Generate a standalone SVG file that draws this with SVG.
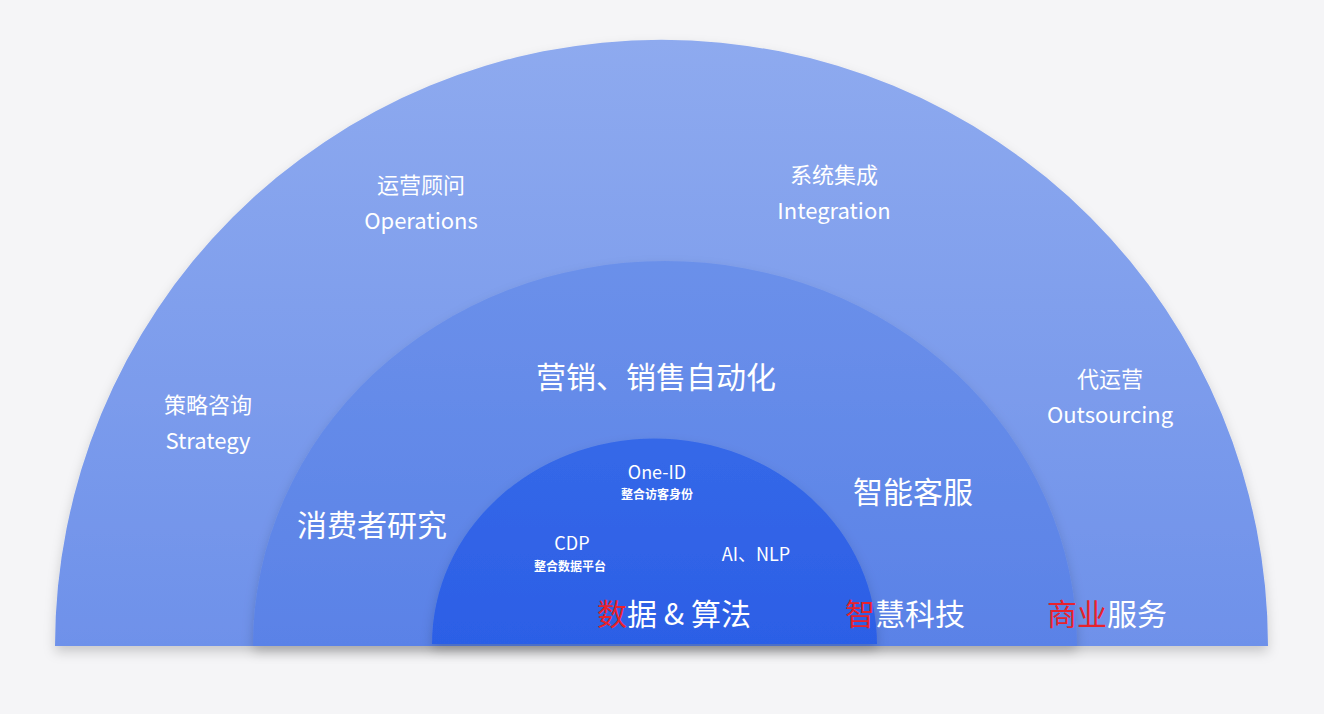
<svg xmlns="http://www.w3.org/2000/svg" width="1324" height="714" viewBox="0 0 1324 714">
<defs>
<linearGradient id="go" x1="0" y1="0" x2="0" y2="1"><stop offset="0" stop-color="#8eaaef"/><stop offset="1" stop-color="#6e91ea"/></linearGradient>
<linearGradient id="gm" x1="0" y1="0" x2="0" y2="1"><stop offset="0" stop-color="#6b90ea"/><stop offset="1" stop-color="#5a82e7"/></linearGradient>
<linearGradient id="gi" x1="0" y1="0" x2="0" y2="1"><stop offset="0" stop-color="#3568e8"/><stop offset="1" stop-color="#2c5fe6"/></linearGradient>
<filter id="sh" x="-10%" y="-10%" width="120%" height="130%"><feDropShadow dx="0" dy="6" stdDeviation="6" flood-color="#000" flood-opacity="0.18"/></filter>
</defs>
<style>
text{font-family:"Noto Sans CJK SC","Liberation Sans",sans-serif;fill:#fff;text-anchor:middle}
.l{font-size:22px}
.b{font-size:30px}
.s{font-size:18px}
.xs{font-size:12px;font-weight:bold}
.r{fill:#e8222c}
</style>
<rect width="1324" height="714" fill="#f5f5f7"/>
<g id="outer"><path d="M55 646 A606 606 0 0 1 1268 646 Z" fill="url(#go)" filter="url(#sh)"/></g>
<g id="middle"><path d="M253 646 A412 385 0 0 1 1077 646 Z" fill="url(#gm)" filter="url(#sh)"/></g>
<g id="inner"><path d="M432 644 A222 205 0 0 1 877 644 Z" fill="url(#gi)" filter="url(#sh)"/></g>
<g id="labels-outer">
<text class="l" x="421" y="193">运营顾问</text><text class="l" x="421" y="229">Operations</text>
<text class="l" x="834" y="183">系统集成</text><text class="l" x="834" y="219">Integration</text>
<text class="l" x="208" y="413">策略咨询</text><text class="l" x="208" y="449">Strategy</text>
<text class="l" x="1110" y="387">代运营</text><text class="l" x="1110" y="423">Outsourcing</text>
</g>
<g id="labels-middle">
<text class="b" x="656" y="388">营销、销售自动化</text>
<text class="b" x="372" y="536">消费者研究</text>
<text class="b" x="913" y="503">智能客服</text>
</g>
<g id="labels-inner">
<text class="s" x="657" y="479">One-ID</text><text class="xs" x="657" y="499">整合访客身份</text>
<text class="s" x="572" y="550">CDP</text><text class="xs" x="570" y="571">整合数据平台</text>
<text class="s" x="756" y="561">AI、NLP</text>
</g>
<g id="bottom">
<text class="b" x="674" y="625"><tspan class="r">数</tspan>据 &amp; 算法</text>
<text class="b" x="905" y="625"><tspan class="r">智</tspan>慧科技</text>
<text class="b" x="1107" y="625"><tspan class="r">商业</tspan>服务</text>
</g>
</svg>
